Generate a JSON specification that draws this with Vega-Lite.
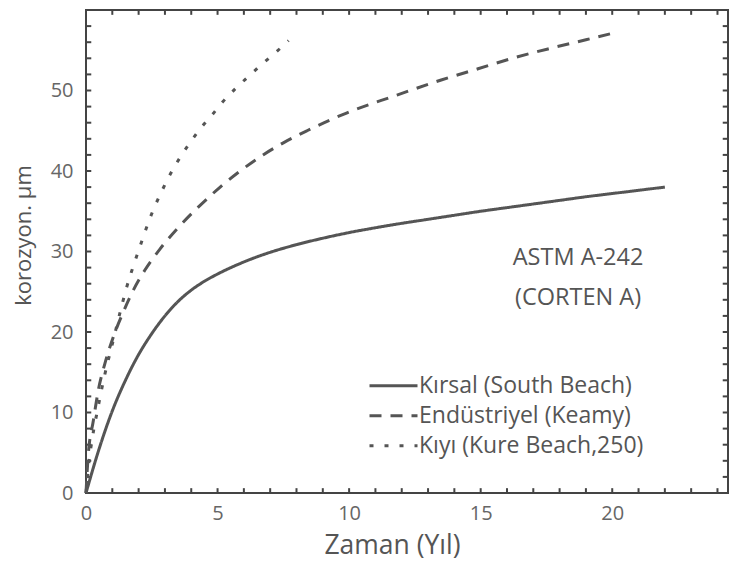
{
  "$schema": "https://vega.github.io/schema/vega-lite/v6.json",
  "width": 642,
  "height": 483,
  "autosize": "none",
  "padding": {"left": 86, "top": 10, "right": 5, "bottom": 72},
  "background": "white",
  "config": {
    "font": "Open Sans",
    "view": {"stroke": "#444", "strokeWidth": 2, "fill": null},
    "axis": {"domain": false, "ticks": false, "labelColor": "#666", "titleColor": "#555", "labelFont": "Open Sans", "titleFont": "Open Sans", "grid": false, "titleFontWeight": "normal"}
  },
  "datasets": {
    "curves": [
      {"series": "Kırsal (South Beach)", "t": 0, "c": 0},
      {"series": "Kırsal (South Beach)", "t": 0.5, "c": 5.5},
      {"series": "Kırsal (South Beach)", "t": 1, "c": 10.2},
      {"series": "Kırsal (South Beach)", "t": 1.5, "c": 14},
      {"series": "Kırsal (South Beach)", "t": 2, "c": 17.2},
      {"series": "Kırsal (South Beach)", "t": 2.5, "c": 19.8},
      {"series": "Kırsal (South Beach)", "t": 3, "c": 22},
      {"series": "Kırsal (South Beach)", "t": 3.5, "c": 23.8},
      {"series": "Kırsal (South Beach)", "t": 4, "c": 25.2},
      {"series": "Kırsal (South Beach)", "t": 4.5, "c": 26.3},
      {"series": "Kırsal (South Beach)", "t": 5, "c": 27.2},
      {"series": "Kırsal (South Beach)", "t": 6, "c": 28.7},
      {"series": "Kırsal (South Beach)", "t": 7, "c": 29.9},
      {"series": "Kırsal (South Beach)", "t": 8, "c": 30.85},
      {"series": "Kırsal (South Beach)", "t": 9, "c": 31.65},
      {"series": "Kırsal (South Beach)", "t": 10, "c": 32.35},
      {"series": "Kırsal (South Beach)", "t": 11, "c": 32.95},
      {"series": "Kırsal (South Beach)", "t": 12, "c": 33.5},
      {"series": "Kırsal (South Beach)", "t": 13, "c": 34},
      {"series": "Kırsal (South Beach)", "t": 14, "c": 34.5},
      {"series": "Kırsal (South Beach)", "t": 15, "c": 35},
      {"series": "Kırsal (South Beach)", "t": 16, "c": 35.45},
      {"series": "Kırsal (South Beach)", "t": 17, "c": 35.9},
      {"series": "Kırsal (South Beach)", "t": 18, "c": 36.35},
      {"series": "Kırsal (South Beach)", "t": 19, "c": 36.8},
      {"series": "Kırsal (South Beach)", "t": 20, "c": 37.2},
      {"series": "Kırsal (South Beach)", "t": 21, "c": 37.6},
      {"series": "Kırsal (South Beach)", "t": 22, "c": 38},
      {"series": "Endüstriyel (Keamy)", "t": 0, "c": 0},
      {"series": "Endüstriyel (Keamy)", "t": 0.08, "c": 4.5},
      {"series": "Endüstriyel (Keamy)", "t": 0.28, "c": 9},
      {"series": "Endüstriyel (Keamy)", "t": 0.47, "c": 12.8},
      {"series": "Endüstriyel (Keamy)", "t": 0.72, "c": 16.1},
      {"series": "Endüstriyel (Keamy)", "t": 1.04, "c": 19.4},
      {"series": "Endüstriyel (Keamy)", "t": 1.42, "c": 22.5},
      {"series": "Endüstriyel (Keamy)", "t": 1.8, "c": 25.2},
      {"series": "Endüstriyel (Keamy)", "t": 2.24, "c": 27.7},
      {"series": "Endüstriyel (Keamy)", "t": 2.81, "c": 30.3},
      {"series": "Endüstriyel (Keamy)", "t": 3.57, "c": 33.2},
      {"series": "Endüstriyel (Keamy)", "t": 4.2, "c": 35.3},
      {"series": "Endüstriyel (Keamy)", "t": 5.1, "c": 38},
      {"series": "Endüstriyel (Keamy)", "t": 5.9, "c": 40.1},
      {"series": "Endüstriyel (Keamy)", "t": 6.73, "c": 42},
      {"series": "Endüstriyel (Keamy)", "t": 7.5, "c": 43.5},
      {"series": "Endüstriyel (Keamy)", "t": 8.4, "c": 45},
      {"series": "Endüstriyel (Keamy)", "t": 9.9, "c": 47.2},
      {"series": "Endüstriyel (Keamy)", "t": 11.7, "c": 49.3},
      {"series": "Endüstriyel (Keamy)", "t": 13.5, "c": 51.3},
      {"series": "Endüstriyel (Keamy)", "t": 14.9, "c": 52.7},
      {"series": "Endüstriyel (Keamy)", "t": 16.2, "c": 54},
      {"series": "Endüstriyel (Keamy)", "t": 17.6, "c": 55.2},
      {"series": "Endüstriyel (Keamy)", "t": 19, "c": 56.3},
      {"series": "Endüstriyel (Keamy)", "t": 20, "c": 57.1},
      {"series": "Kıyı (Kure Beach,250)", "t": 0, "c": 0},
      {"series": "Kıyı (Kure Beach,250)", "t": 0.1, "c": 3.5},
      {"series": "Kıyı (Kure Beach,250)", "t": 0.25, "c": 7},
      {"series": "Kıyı (Kure Beach,250)", "t": 0.45, "c": 10.5},
      {"series": "Kıyı (Kure Beach,250)", "t": 0.7, "c": 14.5},
      {"series": "Kıyı (Kure Beach,250)", "t": 1.0, "c": 18.5},
      {"series": "Kıyı (Kure Beach,250)", "t": 1.3, "c": 22.5},
      {"series": "Kıyı (Kure Beach,250)", "t": 1.54, "c": 25.5},
      {"series": "Kıyı (Kure Beach,250)", "t": 1.74, "c": 27.6},
      {"series": "Kıyı (Kure Beach,250)", "t": 2.05, "c": 30.6},
      {"series": "Kıyı (Kure Beach,250)", "t": 2.37, "c": 33.6},
      {"series": "Kıyı (Kure Beach,250)", "t": 2.56, "c": 35.2},
      {"series": "Kıyı (Kure Beach,250)", "t": 2.81, "c": 37},
      {"series": "Kıyı (Kure Beach,250)", "t": 3.06, "c": 38.7},
      {"series": "Kıyı (Kure Beach,250)", "t": 3.32, "c": 40.3},
      {"series": "Kıyı (Kure Beach,250)", "t": 3.64, "c": 42},
      {"series": "Kıyı (Kure Beach,250)", "t": 3.95, "c": 43.5},
      {"series": "Kıyı (Kure Beach,250)", "t": 4.33, "c": 45.2},
      {"series": "Kıyı (Kure Beach,250)", "t": 4.8, "c": 47},
      {"series": "Kıyı (Kure Beach,250)", "t": 5.2, "c": 48.6},
      {"series": "Kıyı (Kure Beach,250)", "t": 5.67, "c": 50.2},
      {"series": "Kıyı (Kure Beach,250)", "t": 6.16, "c": 51.7},
      {"series": "Kıyı (Kure Beach,250)", "t": 6.7, "c": 53.3},
      {"series": "Kıyı (Kure Beach,250)", "t": 7.2, "c": 54.7},
      {"series": "Kıyı (Kure Beach,250)", "t": 7.7, "c": 56.2}
    ],
    "notes": [
      {"t": 18.7, "c": 29.2, "label": "ASTM A-242"},
      {"t": 18.7, "c": 24.2, "label": "(CORTEN A)"}
    ],
    "xt": [
      {"v": 1, "k": "minor"}, {"v": 2, "k": "minor"}, {"v": 3, "k": "minor"}, {"v": 4, "k": "minor"}, {"v": 5, "k": "major"},
      {"v": 6, "k": "minor"}, {"v": 7, "k": "minor"}, {"v": 8, "k": "minor"}, {"v": 9, "k": "minor"}, {"v": 10, "k": "major"},
      {"v": 11, "k": "minor"}, {"v": 12, "k": "minor"}, {"v": 13, "k": "minor"}, {"v": 14, "k": "minor"}, {"v": 15, "k": "major"},
      {"v": 16, "k": "minor"}, {"v": 17, "k": "minor"}, {"v": 18, "k": "minor"}, {"v": 19, "k": "minor"}, {"v": 20, "k": "major"},
      {"v": 21, "k": "minor"}, {"v": 22, "k": "minor"}, {"v": 23, "k": "minor"}, {"v": 24, "k": "minor"}
    ],
    "yt": [
      {"v": 2, "k": "minor"}, {"v": 4, "k": "minor"}, {"v": 6, "k": "minor"}, {"v": 8, "k": "minor"}, {"v": 10, "k": "major"},
      {"v": 12, "k": "minor"}, {"v": 14, "k": "minor"}, {"v": 16, "k": "minor"}, {"v": 18, "k": "minor"}, {"v": 20, "k": "major"},
      {"v": 22, "k": "minor"}, {"v": 24, "k": "minor"}, {"v": 26, "k": "minor"}, {"v": 28, "k": "minor"}, {"v": 30, "k": "major"},
      {"v": 32, "k": "minor"}, {"v": 34, "k": "minor"}, {"v": 36, "k": "minor"}, {"v": 38, "k": "minor"}, {"v": 40, "k": "major"},
      {"v": 42, "k": "minor"}, {"v": 44, "k": "minor"}, {"v": 46, "k": "minor"}, {"v": 48, "k": "minor"}, {"v": 50, "k": "major"},
      {"v": 52, "k": "minor"}, {"v": 54, "k": "minor"}, {"v": 56, "k": "minor"}, {"v": 58, "k": "minor"}
    ]
  },
  "layer": [
    {
      "data": {"name": "xt"},
      "mark": {"type": "rule", "color": "#444", "strokeWidth": 2},
      "encoding": {
        "x": {"field": "v", "type": "quantitative", "axis": null},
        "y": {"datum": 0, "type": "quantitative", "axis": null},
        "y2": {"datum": 0.6}
      }
    },
    {
      "data": {"name": "xt"},
      "mark": {"type": "rule", "color": "#444", "strokeWidth": 2},
      "encoding": {
        "x": {"field": "v", "type": "quantitative", "axis": null},
        "y": {"datum": 60, "type": "quantitative", "axis": null},
        "y2": {"datum": 59.4}
      }
    },
    {
      "data": {"name": "yt"},
      "mark": {"type": "rule", "color": "#444", "strokeWidth": 2},
      "encoding": {
        "y": {"field": "v", "type": "quantitative", "axis": null},
        "x": {"datum": 0, "type": "quantitative", "axis": null},
        "x2": {"datum": 0.2}
      }
    },
    {
      "data": {"name": "yt"},
      "mark": {"type": "rule", "color": "#444", "strokeWidth": 2},
      "encoding": {
        "y": {"field": "v", "type": "quantitative", "axis": null},
        "x": {"datum": 24.4, "type": "quantitative", "axis": null},
        "x2": {"datum": 24.2}
      }
    },
    {
      "data": {"name": "notes"},
      "mark": {"type": "text", "fontSize": 23.5, "color": "#555", "font": "Open Sans", "align": "center", "baseline": "middle"},
      "encoding": {
        "x": {"field": "t", "type": "quantitative", "axis": null},
        "y": {"field": "c", "type": "quantitative", "axis": null},
        "text": {"field": "label", "type": "nominal"}
      }
    },
    {
      "data": {"name": "curves"},
      "mark": {"type": "line", "strokeWidth": 3, "color": "#555", "interpolate": "monotone"},
      "encoding": {
        "x": {
          "field": "t", "type": "quantitative",
          "scale": {"domain": [0, 24.4], "nice": false, "zero": false},
          "axis": {
            "orient": "bottom", "title": "Zaman (Yıl)",
            "values": [0, 5, 10, 15, 20],
            "labelPadding": 10, "labelFontSize": 20, "titleFontSize": 26.5, "titlePadding": 9, "titleX": 306, "titleAlign": "center", "labelFlush": false
          }
        },
        "y": {
          "field": "c", "type": "quantitative",
          "scale": {"domain": [0, 60], "nice": false},
          "axis": {
            "orient": "left", "title": "korozyon. μm",
            "values": [0, 10, 20, 30, 40, 50],
            "labelPadding": 13, "labelFontSize": 20, "titleFontSize": 22, "titlePadding": 15, "titleY": 225, "titleAlign": "center", "labelFlush": false
          }
        },
        "strokeDash": {
          "field": "series", "type": "nominal",
          "scale": {"domain": ["Kırsal (South Beach)", "Endüstriyel (Keamy)", "Kıyı (Kure Beach,250)"], "range": [[1, 0], [12, 9], [4, 11]]},
          "legend": {
            "orient": "none", "legendX": 282, "legendY": 361, "title": null,
            "symbolType": "stroke", "symbolSize": 2304, "symbolStrokeWidth": 3, "symbolStrokeColor": "#555",
            "clipHeight": 29.5, "rowPadding": 0,
            "labelFontSize": 23, "labelColor": "#555", "labelFont": "Open Sans", "labelOffset": 0, "labelLimit": 400
          }
        }
      }
    }
  ],
  "resolve": {"axis": {"x": "independent", "y": "independent"}}
}
